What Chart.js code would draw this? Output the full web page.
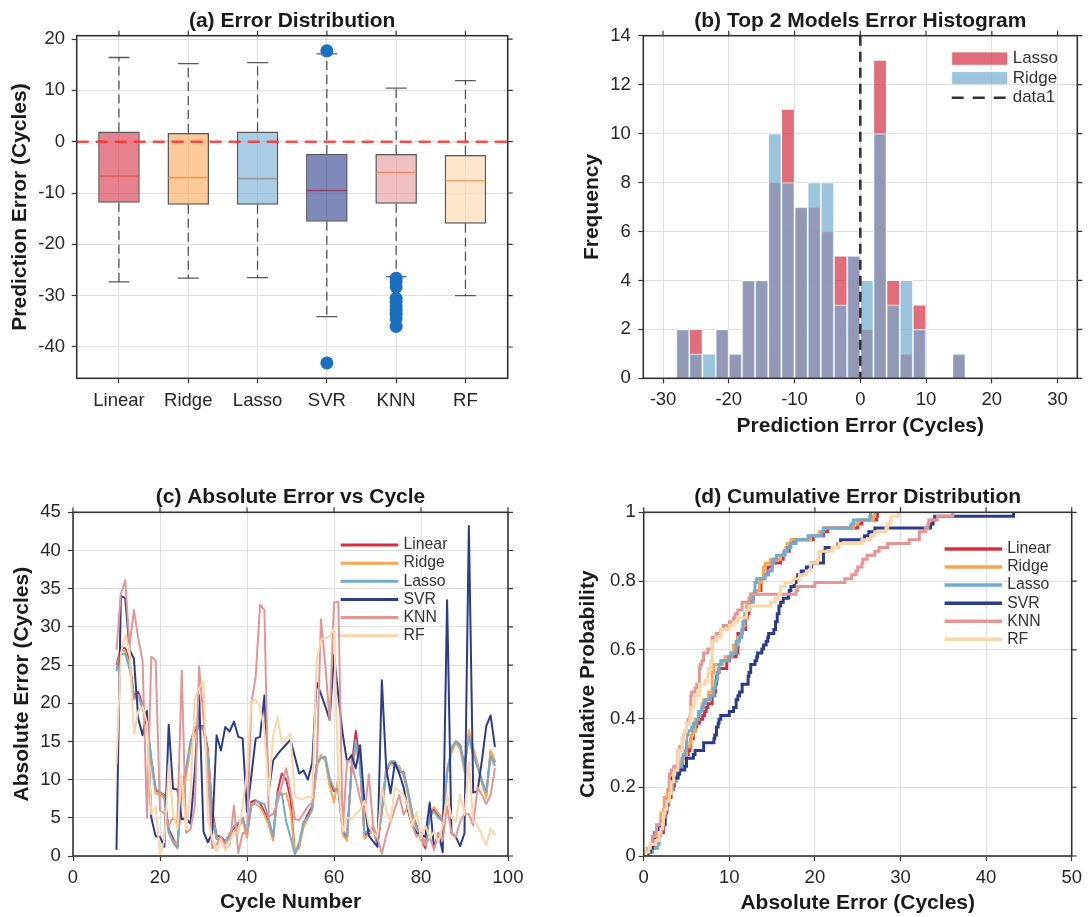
<!DOCTYPE html>
<html>
<head>
<meta charset="utf-8">
<title>Model error comparison</title>
<script src="https://cdn.jsdelivr.net/npm/chart.js@4.4.1/dist/chart.umd.min.js"></script>
<style>
  body { margin: 0; background: #fff; }
  #wrap { position: relative; width: 1088px; height: 917px; overflow: hidden; }
  canvas { position: absolute; }
</style>
</head>
<body>
<div id="wrap">
  <canvas id="boxCtx" width="544" height="458" style="left:0;top:0;width:544px;height:458px"></canvas>
  <canvas id="histCtx" width="544" height="458" style="left:544px;top:0;width:544px;height:458px"></canvas>
  <canvas id="lineCtx" width="544" height="459" style="left:0;top:458px;width:544px;height:459px"></canvas>
  <canvas id="cdfCtx" width="544" height="459" style="left:544px;top:458px;width:544px;height:459px"></canvas>
</div>
<script>
// ---- data ----
const models = ['Linear', 'Ridge', 'Lasso', 'SVR', 'KNN', 'RF'];

// (a) box plot stats of signed error
const boxQ1 = [-11.9, -12.3, -12.3, -15.6, -12.1, -16.0];
const boxQ3 = [2.0, 1.7, 2.0, -2.4, -2.4, -2.6];
const boxMedian = [-6.7, -7.0, -7.2, -9.5, -6.0, -7.6];
const whiskerLow = [-27.3, -26.6, -26.5, -34.1, -26.3, -30.0];
const whiskerHigh = [16.4, 15.2, 15.4, 17.1, 10.45, 11.9];
const svrOutliers = [17.7, -43.1];
const knnOutliers = [-26.6, -27.3, -28.3, -30.5, -31.2, -32.0, -32.8, -33.6, -34.5, -36.0];
const zeroRef = 0;

// (b) histogram, bin width 2
const binCenters = [-27, -25, -23, -21, -19, -17, -15, -13, -11, -9, -7, -5, -3, -1, 1, 3, 5, 7, 9, 11, 13, 15];
const lassoCounts = [2, 2, 0, 2, 1, 4, 4, 8, 11, 7, 7, 6, 5, 5, 2, 13, 4, 1, 3, 0, 0, 1];
const ridgeCounts = [2, 1, 1, 2, 1, 4, 4, 10, 8, 7, 8, 8, 3, 5, 4, 10, 3, 4, 2, 0, 0, 1];

// (c) absolute error per cycle
const cycles = [10, 11, 12, 13, 14, 15, 16, 17, 18, 19,
  20, 21, 22, 23, 24, 25, 26, 27, 28, 29,
  30, 31, 32, 33, 34, 35, 36, 37, 38, 39,
  40, 41, 42, 43, 44, 45, 46, 47, 48, 49,
  50, 51, 52, 53, 54, 55, 56, 57, 58, 59,
  60, 61, 62, 63, 64, 65, 66, 67, 68, 69,
  70, 71, 72, 73, 74, 75, 76, 77, 78, 79,
  80, 81, 82, 83, 84, 85, 86, 87, 88, 89,
  90, 91, 92, 93, 94, 95, 96, 97];

const linearErr = [25.0, 27.3, 27.2, 25.5, 21.0, 21.5, 19.8, 17.5, 12.5, 8.6,
  8.3, 8.0, 3.5, 2.3, 1.2, 8.5, 11.0, 14.5, 16.3, 17.1,
  17.0, 14.0, 6.0, 2.7, 2.5, 1.9, 2.7, 3.6, 4.1, 4.9,
  2.7, 7.1, 7.3, 6.9, 5.8, 4.5, 2.3, 8.4, 10.8, 10.0,
  7.5, 0.3, 1.4, 4.1, 5.5, 6.5, 11.9, 13.0, 12.8, 9.7,
  8.5, 8.8, 3.2, 2.3, 11.5, 16.4, 12.3, 2.7, 3.2, 3.6,
  1.4, 5.8, 11.0, 12.3, 12.1, 11.0, 11.0, 8.4, 5.4, 4.0,
  2.3, 1.0, 5.5, 6.2, 5.2, 4.5, 11.0, 13.7, 15.0, 14.5,
  11.9, 16.0, 13.7, 11.9, 9.7, 8.0, 13.7, 12.3];

const ridgeErr = [24.5, 27.0, 26.8, 25.0, 20.5, 21.0, 19.5, 17.2, 12.0, 8.2,
  8.0, 7.6, 3.0, 2.0, 1.5, 8.0, 10.5, 14.0, 16.0, 16.8,
  16.6, 13.5, 5.5, 2.4, 2.0, 1.6, 2.4, 3.3, 3.8, 4.6,
  2.4, 6.8, 6.8, 6.4, 5.4, 4.0, 2.0, 8.0, 8.0, 8.2,
  6.0, 0.5, 1.0, 3.8, 5.0, 6.0, 11.5, 13.2, 12.5, 9.2,
  7.0, 10.3, 2.8, 2.0, 11.0, 14.0, 12.0, 2.3, 2.8, 3.2,
  1.8, 6.0, 11.6, 12.0, 11.8, 11.8, 10.5, 8.0, 5.0, 3.6,
  2.0, 1.5, 5.8, 6.4, 5.6, 5.0, 11.5, 13.5, 14.8, 14.0,
  11.0, 16.5, 14.2, 12.2, 9.5, 7.6, 13.8, 12.4];

const lassoErr = [24.2, 26.4, 26.5, 24.5, 20.8, 21.0, 19.2, 17.8, 12.8, 8.8,
  8.4, 7.8, 3.2, 1.8, 1.0, 9.0, 11.5, 15.0, 16.8, 17.2,
  16.5, 13.0, 5.0, 2.2, 2.2, 1.8, 2.9, 3.9, 4.4, 5.0,
  3.0, 6.5, 7.2, 7.0, 6.8, 4.8, 2.6, 8.2, 8.2, 4.5,
  2.5, 0.3, 1.8, 4.5, 5.0, 6.2, 12.0, 12.8, 13.0, 10.2,
  8.8, 8.6, 3.4, 2.6, 10.8, 15.2, 11.8, 2.9, 3.4, 3.8,
  1.6, 6.4, 11.4, 12.4, 12.4, 11.2, 10.8, 8.6, 5.6, 3.8,
  2.6, 1.8, 5.2, 5.8, 5.0, 4.6, 10.8, 14.2, 15.0, 14.6,
  11.6, 15.5, 13.2, 11.6, 9.9, 8.4, 13.0, 11.8];

const svrErr = [0.8, 34.0, 33.8, 27.0, 25.8, 18.0, 15.8, 19.0, 5.0, 2.6,
  2.5, 1.2, 17.2, 8.8, 8.7, 4.8, 5.0, 4.2, 11.0, 21.0,
  3.2, 1.8, 3.0, 15.8, 13.8, 16.9, 16.3, 17.6, 15.6, 15.4,
  5.8, 10.5, 15.4, 15.6, 21.0, 8.5, 12.5, 13.3, 14.0, 14.6,
  15.2, 13.0, 10.8, 11.2, 10.0, 12.2, 22.7, 21.2, 19.6, 17.8,
  26.3, 21.0, 16.0, 12.3, 13.2, 11.5, 14.5, 7.0, 2.7, 1.9,
  1.2, 23.0, 11.5, 8.2, 12.2, 10.8, 9.0, 6.0, 4.0, 3.0,
  2.8, 2.5, 7.0, 1.0, 3.0, 0.5, 33.5, 3.0, 2.5, 1.3,
  3.0, 43.2, 8.3, 8.5, 12.5, 17.0, 18.4, 14.3];

const knnErr = [27.0, 34.3, 36.1, 27.5, 32.2, 28.5, 25.5, 5.0, 26.1, 25.6,
  6.0, 5.5, 4.0, 5.0, 4.2, 24.3, 3.0, 3.5, 6.5, 24.8,
  18.0, 10.5, 1.0, 1.5, 2.5, 1.0, 1.5, 6.6, 0.4, 3.0,
  3.0, 20.0, 23.5, 32.9, 32.2, 5.2, 5.5, 7.0, 9.3, 11.5,
  8.5, 4.8, 4.7, 5.6, 6.5, 7.0, 11.0, 31.0, 25.0, 17.8,
  33.2, 33.3, 3.2, 12.5, 12.3, 10.0, 7.5, 5.5, 10.7, 4.0,
  2.3, 0.3, 2.7, 4.5, 6.2, 8.0, 5.4, 6.5, 4.0, 2.5,
  3.0, 1.4, 2.5, 0.8, 3.0, 2.0, 6.5, 3.0, 2.5, 4.5,
  5.5, 5.5, 4.0, 9.0, 8.0, 6.8, 8.0, 11.5];

const rfErr = [12.0, 26.5, 28.9, 27.0, 16.0, 19.0, 19.5, 17.5, 5.5, 6.5,
  0.2, 2.0, 12.0, 5.5, 3.5, 10.5, 3.5, 8.0, 20.5, 22.0,
  22.8, 4.8, 2.3, 0.6, 2.2, 0.7, 1.8, 3.2, 3.0, 6.5,
  11.0, 20.3, 20.5, 19.5, 16.5, 8.0, 15.8, 18.2, 14.8, 15.4,
  16.0, 7.8, 7.5, 7.5, 7.8, 7.6, 25.5, 28.3, 28.5, 28.8,
  29.8, 10.0, 3.2, 5.0, 4.8, 5.5, 6.0, 7.2, 4.0, 3.0,
  2.5, 9.0, 6.0, 4.5, 9.0, 8.5, 8.0, 6.5, 4.0, 5.8,
  2.3, 4.0, 2.3, 3.2, 1.8, 4.0, 8.0, 5.0, 4.5, 8.0,
  5.4, 12.3, 4.5, 4.0, 2.7, 1.4, 3.6, 2.7];

const modelErrors = [linearErr, ridgeErr, lassoErr, svrErr, knnErr, rfErr];

// ---- styles ----
const modelRgb = [[214, 47, 66], [248, 166, 80], [112, 171, 210], [43, 60, 140], [230, 149, 149], [253, 213, 166]];
const medianColors = ['#e0605a', '#ee9a5a', '#9a9a9a', '#8e3f62', '#ec8a6a', '#f3a56a'];
const rgba = (c, a) => `rgba(${c[0]},${c[1]},${c[2]},${a})`;

const fontFamily = "'Liberation Sans', Arial, Helvetica, sans-serif";
Chart.defaults.font.family = fontFamily;
Chart.defaults.color = '#262626';
Chart.defaults.animation = false;
Chart.defaults.events = [];
Chart.defaults.plugins.legend.display = false;
Chart.defaults.plugins.tooltip.enabled = false;

const tickFont = { size: 18.5 };
const labelFont = { size: 21, weight: 'bold' };

function axis(o) {
  const cfg = {
    type: 'linear',
    min: o.min,
    max: o.max,
    bounds: 'data',
    offset: false,
    afterBuildTicks: s => { s.ticks = o.ticks.map(v => ({ value: v })); },
    afterFit: s => { if (s.isHorizontal()) s.height = o.size; else s.width = o.size; },
    grid: { color: '#dfdfdf', lineWidth: 1, tickLength: 5, tickColor: '#333', tickWidth: 1.2, offset: false },
    border: { display: false },
    ticks: { font: tickFont, padding: o.pad, color: '#262626', autoSkip: false, maxRotation: 0,
      callback: o.callback || (v => String(Math.round(v * 10) / 10)) },
    title: { display: !!o.title, text: o.title || '', font: labelFont, color: '#1a1a1a', padding: o.titlePad || 0 }
  };
  return cfg;
}

function title(text, top, bottom) {
  return { display: true, text: text, font: labelFont, color: '#1a1a1a', fullSize: false, padding: { top: top, bottom: bottom } };
}

// axes box with outward ticks on top and right
Chart.register({
  id: 'frame',
  afterDraw(chart) {
    const { ctx, chartArea: a, scales } = chart;
    ctx.save();
    ctx.strokeStyle = '#333';
    ctx.lineWidth = 1.2;
    ctx.beginPath();
    scales.x.ticks.forEach(t => {
      const px = scales.x.getPixelForValue(t.value);
      ctx.moveTo(px, a.top);
      ctx.lineTo(px, a.top - 5);
    });
    scales.y.ticks.forEach(t => {
      const py = scales.y.getPixelForValue(t.value);
      ctx.moveTo(a.right, py);
      ctx.lineTo(a.right + 5, py);
    });
    ctx.stroke();
    ctx.lineWidth = 1.6;
    ctx.strokeRect(a.left, a.top, a.right - a.left, a.bottom - a.top);
    ctx.restore();
  }
});

// simple legend drawn inside the axes
Chart.register({
  id: 'key',
  afterDraw(chart, args, opts) {
    if (!opts || !opts.items) return;
    const ctx = chart.ctx;
    ctx.save();
    ctx.font = opts.fontSize + 'px ' + fontFamily;
    ctx.textBaseline = 'middle';
    opts.items.forEach((it, i) => {
      const y = opts.y + i * opts.step;
      if (it.kind === 'rect') {
        ctx.fillStyle = it.color;
        ctx.fillRect(opts.x, y - opts.boxH / 2, opts.len, opts.boxH);
        ctx.strokeStyle = 'rgba(255,255,255,0.8)';
        ctx.lineWidth = 1;
        ctx.strokeRect(opts.x, y - opts.boxH / 2, opts.len, opts.boxH);
      } else {
        ctx.strokeStyle = it.color;
        ctx.lineWidth = it.width;
        ctx.setLineDash(it.dash || []);
        ctx.beginPath();
        ctx.moveTo(opts.x, y);
        ctx.lineTo(opts.x + opts.len, y);
        ctx.stroke();
        ctx.setLineDash([]);
      }
      ctx.fillStyle = '#333';
      ctx.fillText(it.label, opts.x + opts.len + opts.gap, y);
    });
    ctx.restore();
  }
});

// ---- (a) box plot ----
const boxParts = {
  id: 'boxParts',
  afterDatasetDraw(chart, args) {
    if (args.meta.type !== 'bar') return;
    const { ctx, scales: { x, y } } = chart;
    const unit = x.getPixelForValue(2) - x.getPixelForValue(1);
    ctx.save();
    models.forEach((m, i) => {
      const cx = x.getPixelForValue(i + 1);
      ctx.strokeStyle = 'rgba(60,60,60,0.85)';
      ctx.lineWidth = 1.3;
      ctx.setLineDash([9, 5]);
      ctx.beginPath();
      ctx.moveTo(cx, y.getPixelForValue(boxQ3[i]));
      ctx.lineTo(cx, y.getPixelForValue(whiskerHigh[i]));
      ctx.moveTo(cx, y.getPixelForValue(boxQ1[i]));
      ctx.lineTo(cx, y.getPixelForValue(whiskerLow[i]));
      ctx.stroke();
      ctx.setLineDash([]);
      const cap = unit * 0.15;
      ctx.beginPath();
      [whiskerHigh[i], whiskerLow[i]].forEach(v => {
        const py = y.getPixelForValue(v);
        ctx.moveTo(cx - cap, py);
        ctx.lineTo(cx + cap, py);
      });
      ctx.stroke();
      const half = unit * 0.3;
      const pm = y.getPixelForValue(boxMedian[i]);
      ctx.strokeStyle = medianColors[i];
      ctx.lineWidth = 1.6;
      ctx.beginPath();
      ctx.moveTo(cx - half + 1, pm);
      ctx.lineTo(cx + half - 1, pm);
      ctx.stroke();
    });
    ctx.restore();
  },
  afterDatasetsDraw(chart) {
    const { ctx, chartArea: a, scales: { y } } = chart;
    const py = y.getPixelForValue(zeroRef);
    ctx.save();
    ctx.strokeStyle = 'rgba(255,45,45,0.85)';
    ctx.lineWidth = 2.6;
    ctx.setLineDash([12, 7]);
    ctx.beginPath();
    ctx.moveTo(a.left, py);
    ctx.lineTo(a.right, py);
    ctx.stroke();
    ctx.restore();
  }
};

const outlierPts = svrOutliers.map(v => ({ x: models.indexOf('SVR') + 1, y: v }))
  .concat(knnOutliers.map(v => ({ x: models.indexOf('KNN') + 1, y: v })));

new Chart(document.getElementById('boxCtx'), {
  type: 'bar',
  data: {
    datasets: [{
      type: 'scatter',
      data: outlierPts,
      pointRadius: 6.5,
      backgroundColor: '#1a6fc0',
      borderWidth: 0
    }, {
      type: 'bar',
      data: models.map((m, i) => ({ x: i + 1, y: [boxQ1[i], boxQ3[i]] })),
      backgroundColor: modelRgb.map(c => rgba(c, 0.6)),
      borderColor: 'rgba(60,60,60,0.85)',
      borderWidth: 1.5,
      borderSkipped: false,
      barPercentage: 0.6,
      categoryPercentage: 1
    }]
  },
  options: {
    responsive: false,
    layout: { padding: { left: 0, right: 36.3, top: 0, bottom: 0 } },
    plugins: { title: title('(a) Error Distribution', 9.1, 1.4) },
    scales: {
      x: axis({ min: 0.39, max: 6.61, ticks: [1, 2, 3, 4, 5, 6], size: 79.7, pad: 6.6, callback: v => models[v - 1] }),
      y: axis({ min: -46.1, max: 20.65, ticks: [-40, -30, -20, -10, 0, 10, 20], size: 76.7, pad: 6.7,
        title: 'Prediction Error (Cycles)', titlePad: { top: 7.2, bottom: 0 } })
    }
  },
  plugins: [boxParts]
});

// ---- (b) histogram ----
const histRgbLasso = [214, 47, 66];
const histRgbRidge = [112, 171, 210];

const zeroLine = {
  id: 'zeroLine',
  afterDatasetsDraw(chart) {
    const { ctx, chartArea: a, scales: { x } } = chart;
    const px = x.getPixelForValue(zeroRef);
    ctx.save();
    ctx.strokeStyle = '#333';
    ctx.lineWidth = 2.6;
    ctx.setLineDash([10, 6]);
    ctx.beginPath();
    ctx.moveTo(px, a.top);
    ctx.lineTo(px, a.bottom);
    ctx.stroke();
    ctx.restore();
  }
};

new Chart(document.getElementById('histCtx'), {
  type: 'bar',
  data: {
    datasets: [{
      label: 'Lasso',
      order: 2,
      data: binCenters.map((b, i) => ({ x: b, y: lassoCounts[i] })),
      backgroundColor: rgba(histRgbLasso, 0.7),
      borderColor: 'rgba(255,255,255,0.75)',
      borderWidth: 1,
      grouped: false,
      barPercentage: 1,
      categoryPercentage: 1
    }, {
      label: 'Ridge',
      order: 1,
      data: binCenters.map((b, i) => ({ x: b, y: ridgeCounts[i] })),
      backgroundColor: rgba(histRgbRidge, 0.7),
      borderColor: 'rgba(255,255,255,0.75)',
      borderWidth: 1,
      grouped: false,
      barPercentage: 1,
      categoryPercentage: 1
    }]
  },
  options: {
    responsive: false,
    layout: { padding: { left: 0, right: 10.7, top: 0, bottom: 0 } },
    plugins: {
      title: title('(b) Top 2 Models Error Histogram', 9.1, 1.4),
      key: {
        x: 407.7, y: 58.6, step: 19.6, len: 56, gap: 5, boxH: 13.3, fontSize: 17,
        items: [
          { label: 'Lasso', kind: 'rect', color: rgba(histRgbLasso, 0.7) },
          { label: 'Ridge', kind: 'rect', color: rgba(histRgbRidge, 0.7) },
          { label: 'data1', kind: 'line', color: '#333', width: 2.6, dash: [12, 9] }
        ]
      }
    },
    scales: {
      x: axis({ min: -33, max: 33, ticks: [-30, -20, -10, 0, 10, 20, 30], size: 79.7, pad: 5.6,
        title: 'Prediction Error (Cycles)', titlePad: { top: 0, bottom: 19.4 } }),
      y: axis({ min: 0, max: 14, ticks: [0, 2, 4, 6, 8, 10, 12, 14], size: 99.3, pad: 7.4,
        title: 'Frequency', titlePad: { top: 36, bottom: 0 } })
    }
  },
  plugins: [zeroLine]
});

// ---- (c) absolute error vs cycle ----
new Chart(document.getElementById('lineCtx'), {
  type: 'line',
  data: {
    datasets: models.map((m, k) => ({
      label: m,
      order: models.length - k,
      data: cycles.map((c, i) => ({ x: c, y: modelErrors[k][i] })),
      borderColor: rgba(modelRgb[k], 1),
      borderWidth: 2,
      borderJoinStyle: 'round',
      pointRadius: 0,
      tension: 0,
      fill: false
    }))
  },
  options: {
    responsive: false,
    layout: { padding: { left: 0, right: 36, top: 0, bottom: 0 } },
    plugins: {
      title: title('(c) Absolute Error vs Cycle', 26.7, 2.4),
      key: {
        x: 340.7, y: 87, step: 18.14, len: 57.6, gap: 5.2, fontSize: 15.8,
        items: models.map((m, k) => ({ label: m, kind: 'line', color: rgba(modelRgb[k], 1), width: 3 }))
      }
    },
    scales: {
      x: axis({ min: 0, max: 100, ticks: [0, 20, 40, 60, 80, 100], size: 61, pad: 5.9,
        title: 'Cycle Number', titlePad: { top: 0, bottom: 1.7 } }),
      y: axis({ min: 0, max: 45, ticks: [0, 5, 10, 15, 20, 25, 30, 35, 40, 45], size: 73, pad: 7.2,
        title: 'Absolute Error (Cycles)', titlePad: { top: 9.4, bottom: 0 } })
    }
  }
});

// ---- (d) cumulative distribution of absolute error ----
function ecdf(values) {
  const s = values.slice().sort((a, b) => a - b);
  const pts = [{ x: s[0], y: 0 }];
  s.forEach((v, i) => pts.push({ x: v, y: (i + 1) / s.length }));
  return pts;
}

new Chart(document.getElementById('cdfCtx'), {
  type: 'line',
  data: {
    datasets: models.map((m, k) => ({
      label: m,
      order: models.length - k,
      data: ecdf(modelErrors[k]),
      borderColor: rgba(modelRgb[k], 1),
      borderWidth: 3,
      stepped: 'before',
      pointRadius: 0,
      fill: false
    }))
  },
  options: {
    responsive: false,
    layout: { padding: { left: 0, right: 10.6, top: 0, bottom: 0 } },
    plugins: {
      title: title('(d) Cumulative Error Distribution', 26.7, 2.4),
      key: {
        x: 400.6, y: 91, step: 18.06, len: 57.4, gap: 5.2, fontSize: 15.8,
        items: models.map((m, k) => ({ label: m, kind: 'line', color: rgba(modelRgb[k], 1), width: 3.5 }))
      }
    },
    scales: {
      x: axis({ min: 0, max: 50, ticks: [0, 10, 20, 30, 40, 50], size: 61, pad: 6,
        title: 'Absolute Error (Cycles)', titlePad: { top: 0, bottom: 1.1 } }),
      y: axis({ min: 0, max: 1, ticks: [0, 0.2, 0.4, 0.6, 0.8, 1], size: 99.7, pad: 3,
        title: 'Cumulative Probability', titlePad: { top: 31.9, bottom: 0 } })
    }
  }
});
</script>
</body>
</html>
